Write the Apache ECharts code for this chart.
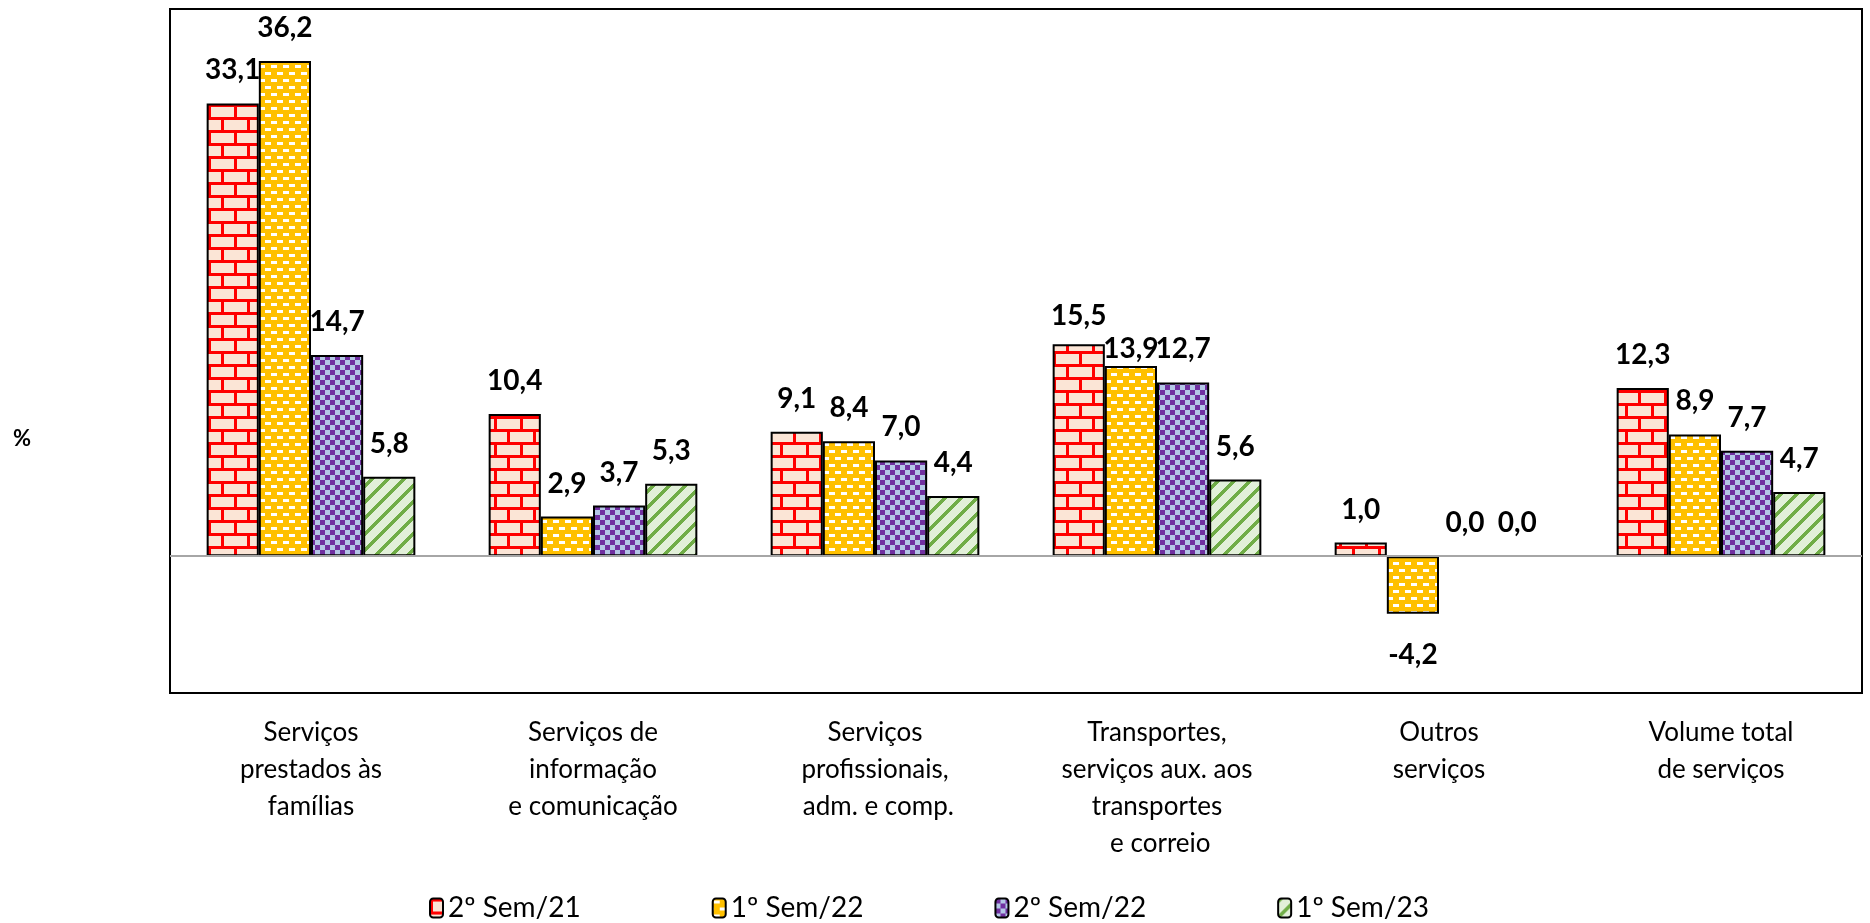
<!DOCTYPE html>
<html>
<head>
<meta charset="utf-8">
<script src="https://cdn.jsdelivr.net/npm/echarts@6/dist/echarts.min.js"></script>
<style>
  html, body { margin: 0; padding: 0; background: #fff; }
  #chart { width: 1870px; height: 923px; }
</style>
</head>
<body>
<div id="chart"></div>
<script>
// Categories (x axis), one entry per group of bars
const categories = [
  'Serviços\nprestados às\nfamílias',
  'Serviços de\ninformação\ne comunicação',
  'Serviços\nprofissionais,\n adm. e comp.',
  'Transportes,\nserviços aux. aos\ntransportes\n e correio',
  'Outros\nserviços',
  'Volume total\nde serviços'
];

// Series names (legend)
const seriesNames = ['2º Sem/21', '1º Sem/22', '2º Sem/22', '1º Sem/23'];

// Variation (%) per period
const sem2_21 = [33.1, 10.4, 9.1, 15.5, 1.0, 12.3];
const sem1_22 = [36.2, 2.9, 8.4, 13.9, -4.2, 8.9];
const sem2_22 = [14.7, 3.7, 7.0, 12.7, 0.0, 7.7];
const sem1_23 = [5.8, 5.3, 4.4, 5.6, 0.0, 4.7];

// Fill patterns drawn on small canvases
function tile(w, h, draw) {
  const c = document.createElement('canvas');
  c.width = w; c.height = h;
  const ctx = c.getContext('2d');
  draw(ctx, w, h);
  return c;
}

// Red bricks on peach
const brick = tile(26, 26, (ctx) => {
  ctx.fillStyle = '#FBE5D6'; ctx.fillRect(0, 0, 26, 26);
  ctx.fillStyle = '#FF0000';
  ctx.fillRect(0, 0, 26, 3);
  ctx.fillRect(0, 13, 26, 3);
  ctx.fillRect(0, 3, 3, 10);
  ctx.fillRect(13, 16, 3, 10);
});

// White dashes on gold
const dashes = tile(12, 14, (ctx) => {
  ctx.fillStyle = '#FFC000'; ctx.fillRect(0, 0, 12, 14);
  ctx.fillStyle = '#FFFFFF';
  ctx.fillRect(1, 2, 6, 3);
  ctx.fillRect(7, 9, 5, 3);
  ctx.fillRect(0, 9, 1, 3);
});

// Purple / light blue checkerboard
const checker = tile(10, 10, (ctx) => {
  ctx.fillStyle = '#B4C7E7'; ctx.fillRect(0, 0, 10, 10);
  ctx.fillStyle = '#7030A0';
  ctx.fillRect(0, 0, 5, 5);
  ctx.fillRect(5, 5, 5, 5);
});

// Green diagonal stripes on pale green
const stripes = tile(16, 16, (ctx) => {
  ctx.fillStyle = '#E2F0D9'; ctx.fillRect(0, 0, 16, 16);
  ctx.fillStyle = '#70AD47';
  for (let y = 0; y < 16; y++) {
    for (let k = 0; k < 5; k++) {
      const x = (16 - y + k + 16) % 16;
      ctx.fillRect(x, y, 1, 1);
    }
  }
});

const fills = [brick, dashes, checker, stripes];
const dataSets = [sem2_21, sem1_22, sem2_22, sem1_23];

const fmt = (v) => v.toFixed(1).replace('.', ',');

// Hand-placed label nudges (series index, category index) -> [dx, dy]
const labelNudges = { '0,3': [0, 5], '1,3': [0, 16], '1,4': [0, 8] };

function buildData(vals, si) {
  return vals.map((v, ci) => {
    const item = { value: v };
    const nudge = labelNudges[si + ',' + ci];
    if (v === 0) {
      // zero-height bar: no outline, label sits above the zero line
      item.itemStyle = { borderWidth: 0, color: 'rgba(0,0,0,0)' };
      item.label = { position: 'top' };
    }
    if (nudge) item.label = Object.assign(item.label || {}, { offset: nudge });
    return item;
  });
}

const series = dataSets.map((vals, i) => ({
  name: seriesNames[i],
  type: 'bar',
  data: buildData(vals, i),
  barGap: '0%',
  barCategoryGap: '26%',
  itemStyle: {
    color: { image: fills[i], repeat: 'repeat' },
    borderColor: '#000000',
    borderWidth: 2
  },
  label: {
    show: true,
    position: 'outside',
    distance: 19,
    formatter: (p) => fmt(p.value),
    fontFamily: 'Lato, sans-serif',
    fontWeight: 'bold',
    fontSize: 28,
    color: '#000000'
  },
  markLine: i === 0 ? {
    silent: true,
    symbol: 'none',
    label: { show: false },
    lineStyle: { color: '#A6A6A6', width: 2, type: 'solid' },
    data: [{ yAxis: 0 }],
    animation: false
  } : undefined
}));

const chart = echarts.init(document.getElementById('chart'));
chart.setOption({
  animation: false,
  backgroundColor: '#ffffff',
  grid: {
    left: 170, right: 8, top: 9, bottom: 230,
    show: true, borderColor: '#000000', borderWidth: 2,
    backgroundColor: 'transparent'
  },
  legend: {
    data: seriesNames,
    left: 424,
    top: 889,
    itemWidth: 13,
    itemHeight: 19,
    itemGap: 131,
    textStyle: { fontFamily: 'Lato, sans-serif', fontSize: 28, color: '#000000', width: 135 }
  },
  xAxis: {
    type: 'category',
    data: categories,
    axisLine: { show: false },
    axisTick: { show: false },
    axisLabel: {
      interval: 0,
      margin: 21,
      fontFamily: 'Lato, sans-serif',
      fontSize: 26,
      lineHeight: 37,
      color: '#000000',
      align: 'center',
      verticalAlign: 'top'
    }
  },
  yAxis: {
    type: 'value',
    min: -10,
    max: 40,
    interval: 10,
    axisLine: { show: false },
    axisTick: { show: false },
    axisLabel: { show: false },
    splitLine: { show: false }
  },
  graphic: [{
    type: 'text',
    left: 13,
    top: 428,
    style: { text: '%', fontFamily: 'Lato, sans-serif', fontWeight: 'bold', fontSize: 22, fill: '#000000' }
  }],
  series: series
});
</script>
</body>
</html>
